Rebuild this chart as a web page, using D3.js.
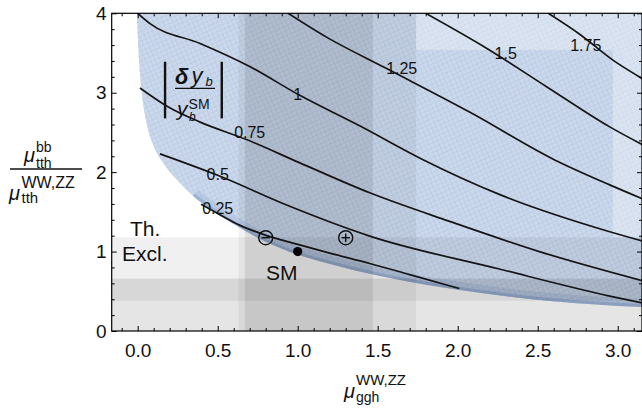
<!DOCTYPE html>
<html><head><meta charset="utf-8">
<script src="https://cdn.jsdelivr.net/npm/d3@7"></script>
<style>
body{margin:0;background:#fff}
text{font-family:"Liberation Sans",Arial,Helvetica,sans-serif;fill:#111}
</style>
</head><body><div id="chart"></div>
<script>
// ---- data ----
var xTicks = [0, 0.5, 1, 1.5, 2, 2.5, 3];
var yTicks = [0, 1, 2, 3, 4];

// lower-left edge of the allowed surface
var boundary = [[-0.006,4.0],[0.008,3.41],[0.027,2.97],[0.058,2.59],[0.102,2.32],[0.164,2.10],
  [0.246,1.90],[0.346,1.70],[0.464,1.52],[0.596,1.35],[0.752,1.17],[0.952,0.995],[1.202,0.844],
  [1.514,0.692],[2.014,0.516],[2.577,0.378],[3.16,0.30]];

var levels = ["0.25","0.5","0.75","1","1.25","1.5","1.75"];
var c025 = [[0.396,1.595],[0.50,1.48],[0.64,1.33],[0.78,1.22],[1.0,1.09],[1.2,0.98],[1.45,0.85],[1.70,0.71],[2.01,0.535]];
var c050 = [[0.139,2.23],[0.50,1.96],[0.95,1.57],[1.45,1.195],[2.26,0.78],[2.95,0.44],[3.16,0.35]];
var c075 = [[0.014,3.06],[0.20,2.81],[0.39,2.63],[0.68,2.41],[1.01,2.12],[1.45,1.74],[1.95,1.38],[2.51,1.00],[3.16,0.63]];
var c100 = [[0.0,4.0],[0.077,3.87],[0.39,3.62],[0.70,3.33],[1.01,2.97],[1.39,2.58],[1.78,2.16],[2.26,1.72],[2.95,1.25],[3.16,1.13]];
var c125 = [[0.94,4.0],[1.18,3.70],[1.55,3.31],[2.08,2.75],[2.60,2.16],[2.95,1.84],[3.16,1.66]];
var c150 = [[1.80,4.0],[2.18,3.56],[2.56,3.07],[2.95,2.57],[3.16,2.34]];
var c175 = [[2.566,4.0],[2.76,3.74],[2.97,3.41],[3.16,3.17]];
var contours = [c025, c050, c075, c100, c125, c150, c175];
var labelX = [0.50, 0.50, 0.70, 1.0, 1.65, 2.30, 2.80];
var labelY = [1.54, 1.97, 2.50, 2.98, 3.30, 3.50, 3.59];

// measurement bands
var hBands = [[0, 1.18], [0, 0.66], [0.38, 0.66]];
var vBands = [[0.63, 1.74], [0.67, 1.47]];
var lightRects = [[1.74, 3.2, 3.54, 4.1], [2.97, 3.2, 1.18, 3.54]];

var smPoint = [1.0, 1.0];
var minusPoint = [0.80, 1.175];
var plusPoint = [1.30, 1.175];

// ---- layout ----
var W = 642, H = 414;
var x = d3.scaleLinear().domain([-0.1625, 3.158]).range([111.7, 643]);
var y = d3.scaleLinear().domain([0, 4]).range([331, 13.3]);

var svg = d3.select("#chart").append("svg").attr("width", W).attr("height", H);
var defs = svg.append("defs");
defs.append("clipPath").attr("id", "plot")
  .append("rect").attr("x", x(-0.1625)).attr("y", y(4)).attr("width", x(3.158) - x(-0.1625)).attr("height", y(0) - y(4));

var line = d3.line().x(d => x(d[0])).y(d => y(d[1])).curve(d3.curveMonotoneX);
var bPath = line(boundary);
var surfD = bPath + "L" + x(3.2) + "," + y(4.3) + "L" + x(-0.006) + "," + y(4.3) + "Z";
defs.append("clipPath").attr("id", "surf").append("path").attr("d", surfD);

var pat = defs.append("pattern").attr("id", "mesh").attr("patternUnits", "userSpaceOnUse")
  .attr("width", 4.5).attr("height", 4.5).attr("patternTransform", "rotate(-24)");
pat.append("path").attr("d", "M0,0.2H4.5M0.2,0V4.5").attr("stroke", "#8ea8d0").attr("stroke-width", 0.6).attr("fill", "none");

var g = svg.append("g").attr("clip-path", "url(#plot)");

// surface
g.append("path").attr("d", surfD).attr("fill", "#cbd8eb");
g.append("path").attr("d", surfD).attr("fill", "url(#mesh)").attr("opacity", 0.42);
var rimPts = boundary.filter(d => d[0] >= 0.25);
var rim = g.append("g").attr("clip-path", "url(#surf)");
rim.append("path").attr("d", line(rimPts)).attr("fill", "none").attr("stroke", "#7f9cc8").attr("stroke-width", 16).attr("stroke-opacity", 0.22);
rim.append("path").attr("d", line(rimPts)).attr("fill", "none").attr("stroke", "#7391c0").attr("stroke-width", 6).attr("stroke-opacity", 0.4);
var lr = g.append("g").attr("clip-path", "url(#surf)");
lr.selectAll("rect").data(lightRects).join("rect")
  .attr("x", d => x(d[0])).attr("width", d => x(d[1]) - x(d[0]))
  .attr("y", d => y(d[3])).attr("height", d => y(d[2]) - y(d[3]))
  .attr("fill", "#fff").attr("fill-opacity", 0.3);

// grey bands
var hAlpha = [0.059, 0.042, 0.057], vAlpha = [0.052, 0.083];
g.selectAll("rect.hb").data(hBands).join("rect").attr("class", "hb")
  .attr("x", x(-0.2)).attr("width", x(3.2) - x(-0.2))
  .attr("y", d => y(d[1])).attr("height", d => y(d[0]) - y(d[1]))
  .attr("fill", "#000").attr("fill-opacity", (d, i) => hAlpha[i]);
g.selectAll("rect.vb").data(vBands).join("rect").attr("class", "vb")
  .attr("x", d => x(d[0])).attr("width", d => x(d[1]) - x(d[0]))
  .attr("y", y(4.1)).attr("height", y(0) - y(4.1))
  .attr("fill", "#000").attr("fill-opacity", (d, i) => vAlpha[i]);

// contours
g.selectAll("path.ct").data(contours).join("path").attr("class", "ct")
  .attr("d", line).attr("fill", "none").attr("stroke", "#151515").attr("stroke-width", 1.7);
g.selectAll("text.cl").data(levels).join("text").attr("class", "cl")
  .attr("x", (d, i) => x(labelX[i])).attr("y", (d, i) => y(labelY[i]))
  .attr("text-anchor", "middle").attr("dominant-baseline", "central")
  .style("font-size", "16px").text(d => d);

// markers
svg.append("circle").attr("cx", x(smPoint[0])).attr("cy", y(smPoint[1])).attr("r", 4.6).attr("fill", "#000");
[minusPoint, plusPoint].forEach(function (p, i) {
  var cx = x(p[0]), cy = y(p[1]);
  svg.append("circle").attr("cx", cx).attr("cy", cy).attr("r", 7).attr("fill", "none").attr("stroke", "#111").attr("stroke-width", 1.4);
  svg.append("line").attr("x1", cx - 4.2).attr("x2", cx + 4.2).attr("y1", cy).attr("y2", cy).attr("stroke", "#111").attr("stroke-width", 1.5);
  if (i == 1) svg.append("line").attr("x1", cx).attr("x2", cx).attr("y1", cy - 4.2).attr("y2", cy + 4.2).attr("stroke", "#111").attr("stroke-width", 1.5);
});

// annotations
svg.append("text").attr("x", x(-0.048)).attr("y", y(1.19)).style("font-size", "21px").text("Th.");
svg.append("text").attr("x", x(-0.098)).attr("y", y(0.88)).style("font-size", "21px").text("Excl.");
svg.append("text").attr("x", x(0.90)).attr("y", y(0.64)).attr("text-anchor", "middle").style("font-size", "21px").text("SM");

var a = svg.append("g").attr("transform", "translate(" + x(0.171) + "," + y(3.39) + ")");
a.selectAll("line.bar").data([0, 56.7]).join("line").attr("class", "bar")
  .attr("x1", d => d).attr("x2", d => d).attr("y1", 0).attr("y2", 56.6).attr("stroke", "#111").attr("stroke-width", 2.4);
a.append("line").attr("x1", 10).attr("x2", 50).attr("y1", 26.6).attr("y2", 26.6).attr("stroke", "#111").attr("stroke-width", 1.4);
a.append("text").attr("x", 10).attr("y", 22).style("font-size", "22px").style("font-weight", "bold").style("font-style", "italic").text("δ");
a.append("text").attr("x", 26.5).attr("y", 21).style("font-size", "22px").style("font-style", "italic").text("y");
a.append("text").attr("x", 40.5).attr("y", 24.5).style("font-size", "13px").style("font-style", "italic").text("b");
a.append("text").attr("x", 23.5).attr("y", 47).style("font-size", "14px").text("SM");
a.append("text").attr("x", 12).attr("y", 54).style("font-size", "21px").style("font-style", "italic").text("y");
a.append("text").attr("x", 24).attr("y", 59.5).style("font-size", "12px").style("font-style", "italic").text("b");

// axes
function styleAxis(sel) {
  sel.select(".domain").remove();
  sel.selectAll(".tick line").attr("stroke", "#000").attr("stroke-width", 1);
  sel.selectAll(".tick text").style("font-size", "19px").attr("fill", "#111").style("font-family", "'Liberation Sans',Arial,sans-serif");
}
var minorX = d3.range(-0.1, 3.16, 0.1).filter(v => Math.abs(v * 2 - Math.round(v * 2)) > 1e-6);
var minorY = d3.range(0.2, 4, 0.2).filter(v => Math.abs(v - Math.round(v)) > 1e-6);
var fmt = d3.format(".1f");

svg.append("g").attr("transform", "translate(0," + y(0) + ")").call(d3.axisBottom(x).tickValues(xTicks).tickSize(-5).tickPadding(13).tickFormat(fmt)).call(styleAxis);
svg.append("g").attr("transform", "translate(0," + y(0) + ")").call(d3.axisBottom(x).tickValues(minorX).tickSize(-3).tickFormat("")).call(styleAxis);
svg.append("g").attr("transform", "translate(0," + y(4) + ")").call(d3.axisTop(x).tickValues(xTicks).tickSize(-5).tickFormat("")).call(styleAxis);
svg.append("g").attr("transform", "translate(0," + y(4) + ")").call(d3.axisTop(x).tickValues(minorX).tickSize(-3).tickFormat("")).call(styleAxis);
svg.append("g").attr("transform", "translate(" + x(-0.1625) + ",0)").call(d3.axisLeft(y).tickValues(yTicks).tickSize(-5).tickPadding(5).tickFormat(d3.format("d"))).call(styleAxis);
svg.append("g").attr("transform", "translate(" + x(-0.1625) + ",0)").call(d3.axisLeft(y).tickValues(minorY).tickSize(-3).tickFormat("")).call(styleAxis);
svg.append("g").attr("transform", "translate(" + (x(3.158) - 1) + ",0)").call(d3.axisRight(y).tickValues(yTicks).tickSize(-5).tickFormat("")).call(styleAxis);
svg.append("g").attr("transform", "translate(" + (x(3.158) - 1) + ",0)").call(d3.axisRight(y).tickValues(minorY).tickSize(-3).tickFormat("")).call(styleAxis);
svg.append("rect").attr("x", x(-0.1625)).attr("y", y(4)).attr("width", x(3.158) - x(-0.1625) - 1).attr("height", y(0) - y(4))
  .attr("fill", "none").attr("stroke", "#000").attr("stroke-width", 1.2);

// axis titles
var xt = svg.append("g");
xt.append("text").attr("x", 344).attr("y", 398).style("font-size", "20px").style("font-style", "italic").text("μ");
xt.append("text").attr("x", 356).attr("y", 384.5).style("font-size", "15px").text("WW,ZZ");
xt.append("text").attr("x", 356).attr("y", 402).style("font-size", "14px").text("ggh");

var yt = svg.append("g");
yt.append("text").attr("x", 24).attr("y", 162).style("font-size", "20px").style("font-style", "italic").text("μ");
yt.append("text").attr("x", 36).attr("y", 151.5).style("font-size", "14px").text("bb");
yt.append("text").attr("x", 36).attr("y", 167.5).style("font-size", "14px").text("tth");
yt.append("line").attr("x1", 10).attr("x2", 82).attr("y1", 169).attr("y2", 169).attr("stroke", "#111").attr("stroke-width", 1.4);
yt.append("text").attr("x", 9).attr("y", 199.5).style("font-size", "20px").style("font-style", "italic").text("μ");
yt.append("text").attr("x", 21.5).attr("y", 187.5).style("font-size", "16px").text("WW,ZZ");
yt.append("text").attr("x", 21.5).attr("y", 203).style("font-size", "15px").text("tth");
</script>
</body></html>
